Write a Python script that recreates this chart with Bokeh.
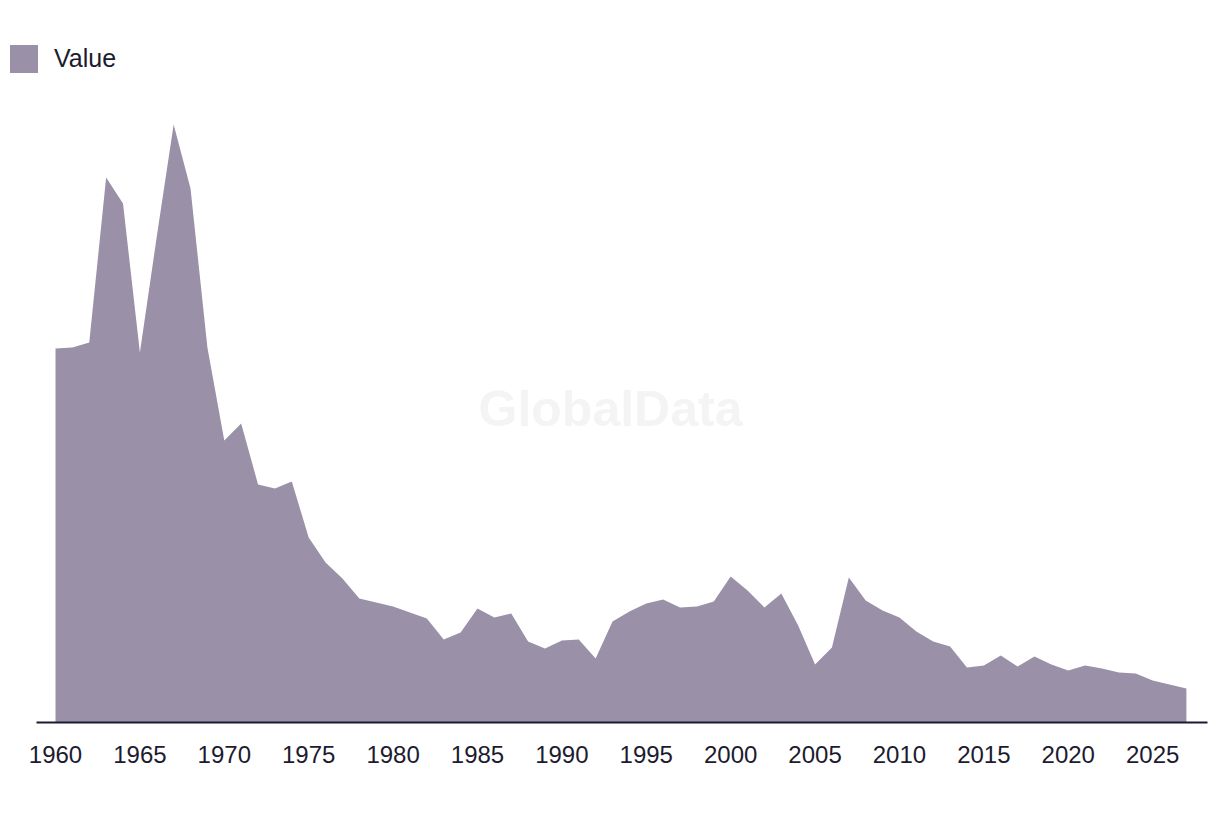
from bokeh.plotting import figure
from bokeh.models import ColumnDataSource, Range1d, Label, FixedTicker
from bokeh.embed import file_html
from bokeh.resources import INLINE

years = list(range(1960, 2028))
values = [374, 375, 380, 545, 519, 370, 486, 598, 534, 375,
          282, 299, 238, 234, 241, 185, 160, 144, 124, 120,
          116, 110, 104, 83, 90, 114, 105, 109, 81, 74,
          82, 83, 64, 101, 111, 119, 123, 115, 116, 121,
          146, 132, 115, 129, 97, 58, 75, 145, 122, 112,
          105, 91, 81, 76, 55, 57, 67, 56, 66, 58,
          52, 57, 54, 50, 49, 42, 38, 34]
tick_years = [1960, 1965, 1970, 1975, 1980, 1985, 1990, 1995,
              2000, 2005, 2010, 2015, 2020, 2025]
series_name = "Value"
watermark = "GlobalData"

AREA = "#9a91a9"
INK = "#1c1b2f"
FONT = "Liberation Sans"

src = ColumnDataSource(dict(year=years, value=values))

p = figure(width=1212, height=790, output_backend="svg", toolbar_location=None,
           x_range=Range1d(1957.097, 2028.25), y_range=Range1d(0, 682),
           y_axis_location=None,
           min_border_left=6, min_border_right=5, min_border_top=40, min_border_bottom=68)

p.outline_line_color = None
p.xgrid.visible = False
p.ygrid.visible = False
p.background_fill_color = "white"
p.border_fill_color = "white"

wm = Label(x=1992.88, y=314, text=watermark, text_align="center", text_baseline="middle",
           text_font=FONT, text_font_style="bold", text_font_size="50px",
           text_color="#f4f4f4")
p.add_layout(wm)

p.varea(x="year", y1=0, y2="value", source=src, fill_color=AREA, fill_alpha=1.0,
        legend_label=series_name)

ax = p.xaxis[0]
ax.ticker = FixedTicker(ticks=tick_years)
ax.bounds = (1958.874, 2028.25)
ax.major_tick_line_color = None
ax.minor_tick_line_color = None
ax.axis_line_color = INK
ax.axis_line_width = 2
ax.major_label_text_font = FONT
ax.major_label_text_font_size = "24px"
ax.major_label_text_color = INK
ax.major_label_standoff = 17

lg = p.legend[0]
lg.location = (0, 646)
lg.padding = 0
lg.margin = 0
lg.border_line_color = None
lg.background_fill_alpha = 0
lg.glyph_width = 35
lg.glyph_height = 35
lg.label_height = 35
lg.label_standoff = 13
lg.label_text_font = FONT
lg.label_text_font_size = "25px"
lg.label_text_color = INK
lg.label_text_baseline = "middle"

open("out.html", "w").write(file_html(p, INLINE))
